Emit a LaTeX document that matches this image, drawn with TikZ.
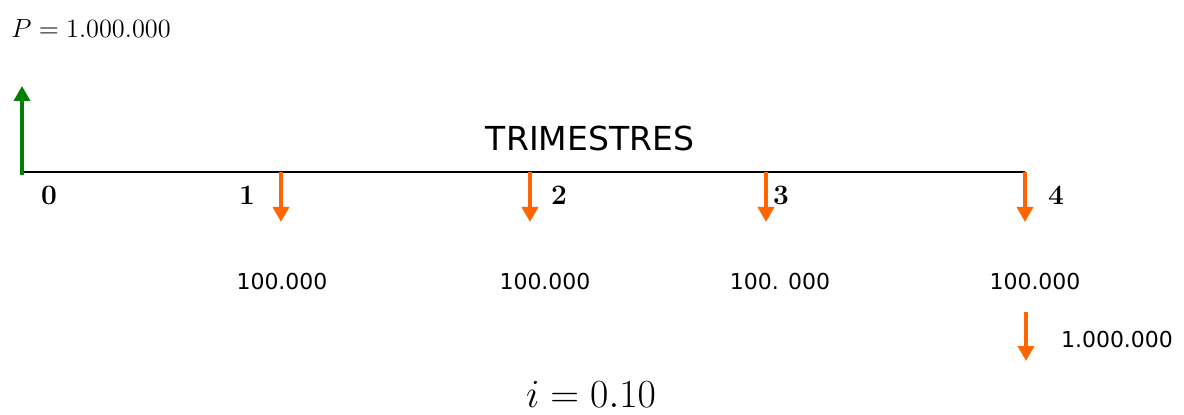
\documentclass[tikz,border=0pt]{standalone}
\usepackage{fontspec}
\newfontfamily\labelfont{DejaVu Sans}
\usetikzlibrary{arrows.meta}
\definecolor{flowout}{RGB}{255,102,0}
\definecolor{flowin}{RGB}{0,128,0}

\begin{document}
\begin{tikzpicture}[x=0.02cm,y=-0.02cm,
  axis/.style={draw=black,line width=1.1pt},
  inflow/.style={-{Triangle[length=3mm,width=3.2mm]},draw=flowin,line width=2pt},
  outflow/.style={-{Triangle[length=3mm,width=3.2mm]},draw=flowout,line width=2pt},
  period/.style={font=\fontsize{16}{16}\selectfont\bfseries,inner sep=0pt},
  amount/.style={font=\labelfont\fontsize{12.5}{14}\selectfont,inner sep=0pt},
  title/.style={font=\labelfont\fontsize{18.8}{20}\selectfont,inner sep=0pt},
  formula/.style={inner sep=0pt},
]
\useasboundingbox (0,0) rectangle (1184,415);

% time line
\coordinate (t0) at (22,172);
\coordinate (t1) at (281,172);
\coordinate (t2) at (530,172);
\coordinate (t3) at (766,172);
\coordinate (t4) at (1025,172);
\draw[axis] (t0) -- (t4);
\node[title] (trim) at (590,138) {TRIMESTRES};

% periods
\node[period] (p0) at (49,195) {0};
\node[period] (p1) at (247,195) {1};
\node[period] (p2) at (559,195) {2};
\node[period] (p3) at (781,195) {3};
\node[period] (p4) at (1056,195) {4};

% cash flows
\coordinate (pv) at (22,86);
\draw[inflow] ([yshift=-1.5pt]t0) -- (pv);
\node[formula,anchor=west] (plabel) at (11,29)
  {\scalebox{1.04}{\fontsize{14.4}{16}\selectfont$P = 1.000.000$}};

\foreach \k in {1,...,4}
  \coordinate (c\k) at ([yshift=-1cm]t\k);
\draw[outflow] (t1) -- (c1);
\draw[outflow] (t2) -- (c2);
\draw[outflow] (t3) -- (c3);
\draw[outflow] (t4) -- (c4);

\node[amount] (a1) at (282,282) {100.000};
\node[amount] (a2) at (545,282) {100.000};
\node[amount] (a3) at (780,282) {100. 000};
\node[amount] (a4) at (1035,282) {100.000};

\coordinate (f0) at (1026,312);
\coordinate (f1) at (1026,361);
\draw[outflow] (f0) -- (f1);
\node[amount] (fv) at (1117,340) {1.000.000};

\node[formula] (rate) at (591,394)
  {\scalebox{1.094}{\fontsize{20.74}{22}\selectfont$i = 0.10$}};

\end{tikzpicture}
\end{document}
